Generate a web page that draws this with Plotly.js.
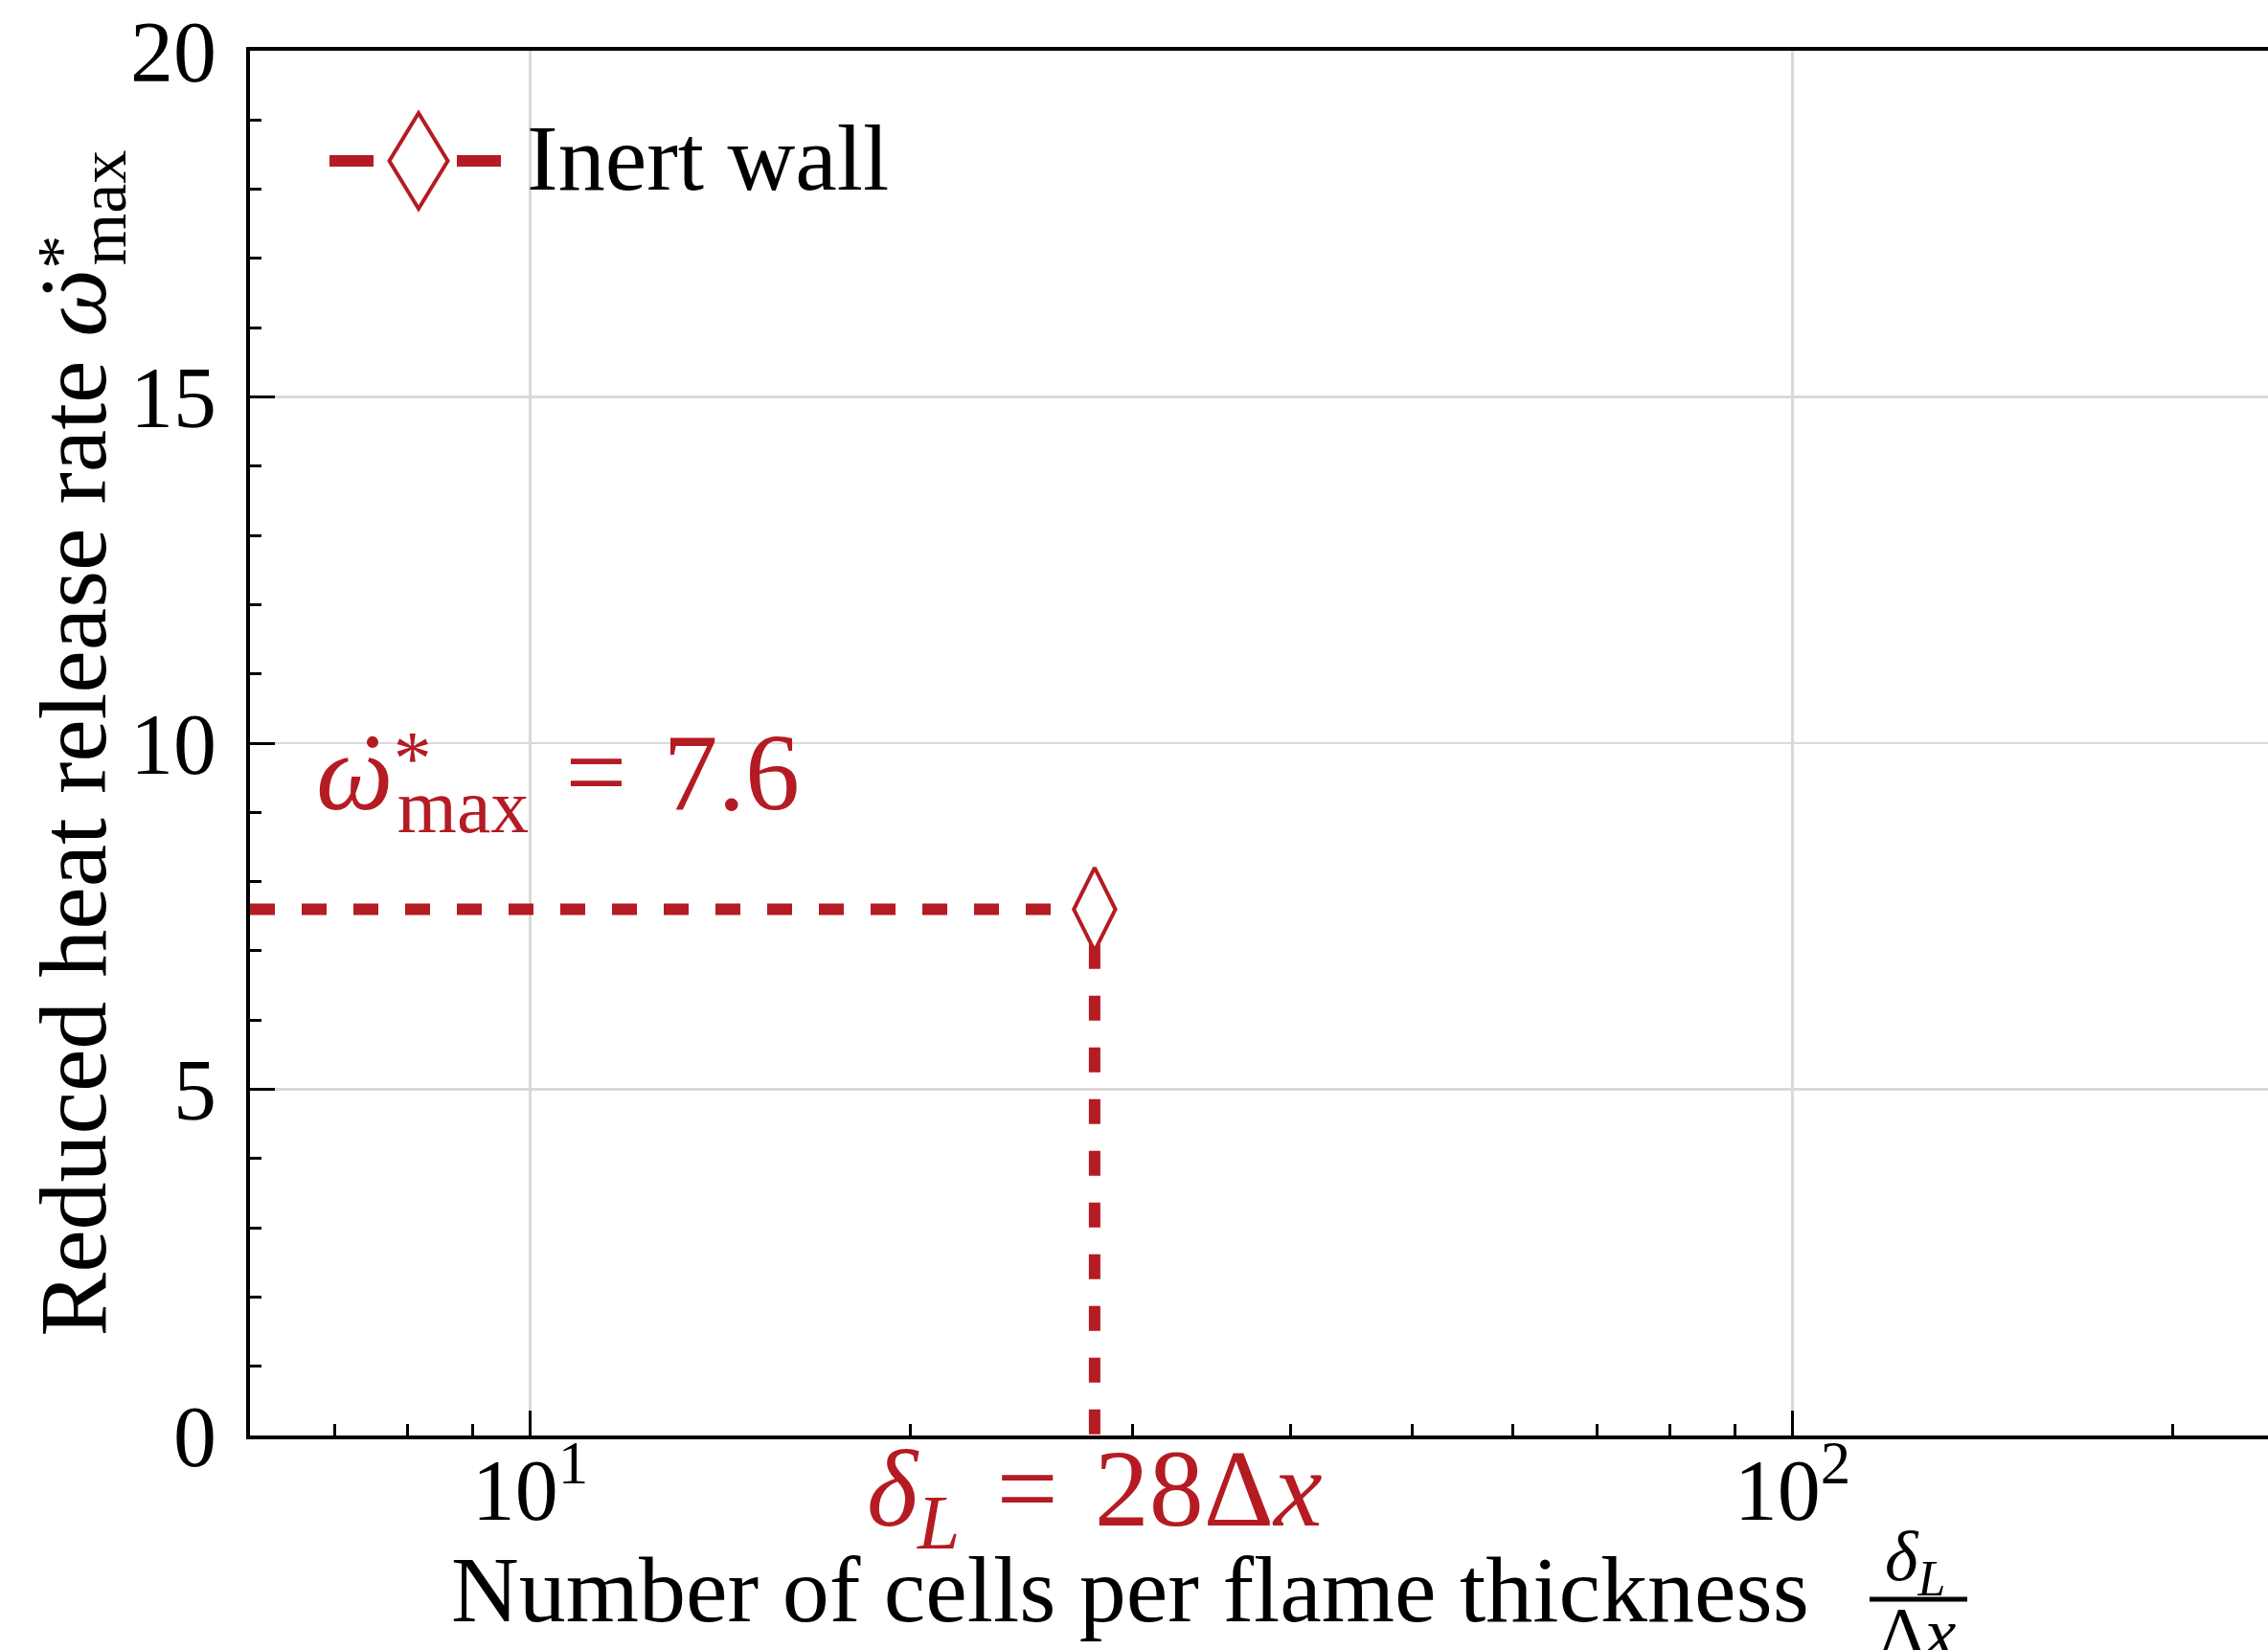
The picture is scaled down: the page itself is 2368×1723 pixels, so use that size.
<!DOCTYPE html>
<html>
<head>
<meta charset="utf-8">
<script src="https://cdn.plot.ly/plotly-3.0.1.min.js"></script>
<style>
  html, body { margin: 0; padding: 0; background: #ffffff; overflow: hidden; }
  #chart { width: 2368px; height: 1723px; }
</style>
</head>
<body>
<div id="chart"></div>
<script>
// Grid resolution study: reduced maximum heat release rate vs cells per flame thickness
const seriesName = 'Inert wall';
const cellsPerThickness = [28];      // delta_L / dx
const omegaMax = [7.6];              // reduced max heat release rate

const xTickVals = [10, 100];
const xTickText = ['10<sup>1</sup>', '10<sup>2</sup>'];
const xMinorVals = [7, 8, 9, 20, 30, 40, 50, 60, 70, 80, 90, 200];
const yTickVals = [0, 5, 10, 15, 20];
const yTickText = ['0', '5', '10', '15', '20'];
const xRange = [6, 238];
const yRange = [0, 20];

// ---- page geometry and style ----
const W = 2368, H = 1723;
const M = { l: 261, r: 0, t: 53, b: 224 };
const plotW = W - M.l - M.r, plotH = H - M.t - M.b;
const RED = '#b51b23';
const FONT = 'Liberation Serif, Times New Roman, serif';

// helpers: page pixel -> paper fraction
const px = v => (v - M.l) / plotW;
const py = v => (H - M.b - v) / plotH;

const x0 = cellsPerThickness[0];
const y0 = omegaMax[0];

// omega with an overdot, and a raised star stacked over the subscript
const OMEGA_DOT = '<i><span style="letter-spacing:-0.42em">ω</span>' +
                  '<span style="letter-spacing:0.09em">˙</span></i>';
const STAR_SUP = '<span style="font-size:70%;baseline-shift:0.33em;letter-spacing:-0.45em">*</span>';
const SP = '\u2004';   // math-style spacing around "="

const traces = [
  {
    // dashed guide lines from the point to both axes
    x: [xRange[0], x0, x0],
    y: [y0, y0, yRange[0]],
    mode: 'lines',
    line: { color: RED, width: 12, dash: '26px,28px' },
    showlegend: false,
    hoverinfo: 'skip'
  },
  {
    x: cellsPerThickness,
    y: omegaMax,
    name: seriesName,
    mode: 'markers',
    marker: {
      symbol: 'diamond-tall',
      size: 62,
      color: '#ffffff',
      line: { color: RED, width: 4 }
    },
    cliponaxis: false,
    showlegend: false
  }
];

// legend key drawn as shapes (large marker glyph)
const key = { cx: 437, cy: 168, halfW: 30.5, halfH: 50, segL: [344, 390], segR: [477, 523] };
const diamondPath =
  'M' + px(key.cx) + ',' + py(key.cy - key.halfH) +
  ' L' + px(key.cx + key.halfW) + ',' + py(key.cy) +
  ' L' + px(key.cx) + ',' + py(key.cy + key.halfH) +
  ' L' + px(key.cx - key.halfW) + ',' + py(key.cy) + ' Z';

const shapes = [
  { type: 'line', xref: 'paper', yref: 'paper', x0: px(key.segL[0]), x1: px(key.segL[1]),
    y0: py(key.cy), y1: py(key.cy), line: { color: RED, width: 12 } },
  { type: 'line', xref: 'paper', yref: 'paper', x0: px(key.segR[0]), x1: px(key.segR[1]),
    y0: py(key.cy), y1: py(key.cy), line: { color: RED, width: 12 } },
  { type: 'path', xref: 'paper', yref: 'paper', path: diamondPath,
    fillcolor: '#ffffff', line: { color: RED, width: 4 } },
  // fraction bar of the x-axis title
  { type: 'line', xref: 'paper', yref: 'paper', x0: px(1952), x1: px(2054),
    y0: py(1670), y1: py(1670), line: { color: '#000000', width: 5 } }
];

const annotations = [
  // legend label
  { xref: 'paper', yref: 'paper', x: px(548), y: py(109), xanchor: 'left', yanchor: 'top',
    text: seriesName, showarrow: false, font: { family: FONT, size: 98, color: '#000' } },
  // value callout
  { xref: 'paper', yref: 'paper', x: px(328), y: py(741), xanchor: 'left', yanchor: 'top',
    text: OMEGA_DOT + STAR_SUP + '<sub>max</sub>' + SP + '=' + SP + y0,
    showarrow: false, font: { family: FONT, size: 114, color: RED } },
  // resolution callout, centred on the point
  { xref: 'x', yref: 'paper', x: Math.log10(x0), y: py(1489), xanchor: 'center', yanchor: 'top',
    text: '<i>δ</i><sub><i>L</i></sub>' + SP + '=' + SP + x0 + 'Δ<i>x</i>',
    showarrow: false, font: { family: FONT, size: 114, color: RED } },
  // x-axis title
  { xref: 'paper', yref: 'paper', x: px(469), y: py(1604), xanchor: 'left', yanchor: 'top',
    text: 'Number of cells per flame thickness', showarrow: false,
    font: { family: FONT, size: 98, color: '#000' } },
  { xref: 'paper', yref: 'paper', x: px(1999), y: py(1582), xanchor: 'center', yanchor: 'top',
    text: '<i>δ</i><sub><i>L</i></sub>', showarrow: false,
    font: { family: FONT, size: 74, color: '#000' } },
  { xref: 'paper', yref: 'paper', x: px(2002), y: py(1662), xanchor: 'center', yanchor: 'top',
    text: 'Δ<i>x</i>', showarrow: false,
    font: { family: FONT, size: 74, color: '#000' } },
  // y-axis title
  { xref: 'paper', yref: 'paper', x: px(18), y: 0.5, xanchor: 'left', yanchor: 'middle',
    textangle: -90,
    text: 'Reduced heat release rate ' + OMEGA_DOT + STAR_SUP + '<sub>max</sub>',
    showarrow: false, font: { family: FONT, size: 100, color: '#000' } }
];

const layout = {
  width: W, height: H,
  margin: M,
  paper_bgcolor: '#ffffff', plot_bgcolor: '#ffffff',
  font: { family: FONT, color: '#000' },
  showlegend: false,
  xaxis: {
    type: 'log',
    range: [Math.log10(xRange[0]), Math.log10(xRange[1])],
    tickmode: 'array', tickvals: xTickVals, ticktext: xTickText,
    ticks: 'inside', ticklen: 26, tickwidth: 3, tickcolor: '#000',
    tickfont: { family: FONT, size: 90, color: '#000' },
    ticklabelstandoff: -24,
    showline: true, linecolor: '#000', linewidth: 4, mirror: true,
    showgrid: true, gridcolor: '#d9d9d9', gridwidth: 2.5,
    zeroline: false,
    minor: { tickmode: 'array', tickvals: xMinorVals, ticks: 'inside', ticklen: 12,
             tickwidth: 3, tickcolor: '#000', showgrid: false }
  },
  yaxis: {
    range: yRange,
    tickmode: 'array', tickvals: yTickVals, ticktext: yTickText,
    ticks: 'inside', ticklen: 26, tickwidth: 3, tickcolor: '#000',
    tickfont: { family: FONT, size: 90, color: '#000' },
    ticklabelstandoff: 13,
    showline: true, linecolor: '#000', linewidth: 4, mirror: false,
    showgrid: true, gridcolor: '#d9d9d9', gridwidth: 2.5,
    zeroline: false,
    minor: { dtick: 1, ticks: 'inside', ticklen: 12, tickwidth: 3, tickcolor: '#000', showgrid: false }
  },
  shapes: shapes,
  annotations: annotations
};

Plotly.newPlot('chart', traces, layout, { staticPlot: true, displayModeBar: false });
</script>
</body>
</html>
